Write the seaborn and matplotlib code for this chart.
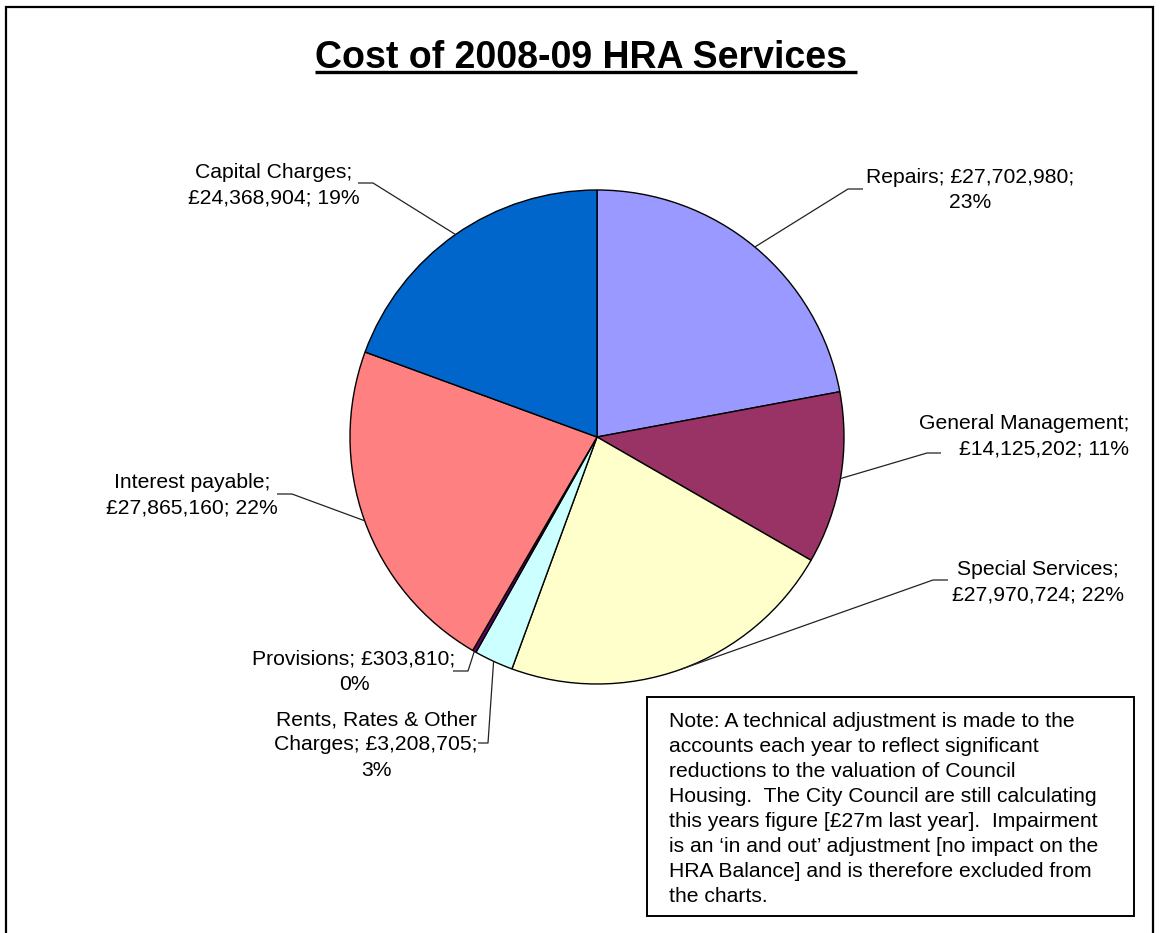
import matplotlib
matplotlib.use("Agg")
import matplotlib.pyplot as plt
from matplotlib.patches import Rectangle
import numpy as np
import seaborn as sns

# --- data -------------------------------------------------------------
categories = ["Repairs", "General Management", "Special Services",
              "Rents, Rates & Other Charges", "Provisions",
              "Interest payable", "Capital Charges"]
costs = [27702980, 14125202, 27970724, 3208705, 303810, 27865160, 24368904]
percent_labels = ["23%", "11%", "22%", "3%", "0%", "22%", "19%"]
colors = ["#9999FF", "#993366", "#FFFFCC", "#CCFFFF", "#660066",
          "#FF8080", "#0066CC"]

title = "Cost of 2008-09 HRA Services"
note = ("Note: A technical adjustment is made to the\n"
        "accounts each year to reflect significant\n"
        "reductions to the valuation of Council\n"
        "Housing.  The City Council are still calculating\n"
        "this years figure [\u00a327m last year].  Impairment\n"
        "is an \u2018in and out\u2019 adjustment [no impact on the\n"
        "HRA Balance] and is therefore excluded from\n"
        "the charts.")

# how each data label wraps onto lines
label_templates = [
    "{name}; {cost};\n{pct}",
    "{name};\n{cost}; {pct}",
    "{name};\n{cost}; {pct}",
    "Rents, Rates & Other\nCharges; {cost};\n{pct}",
    "{name}; {cost};\n{pct}",
    "{name};\n{cost}; {pct}",
    "{name};\n{cost}; {pct}",
]

# --- layout (pixel units, y measured from the top) ----------------------
W, H = 1160, 933
center_px = (597, 437)
radius_px = 247
# text anchor, horizontal alignment, elbow of leader, end of short tail
label_layout = [
    ((970, 190), "center", (848, 189), (863, 189)),
    ((1129, 436), "right", (927, 453), (941, 453)),
    ((1038, 582), "center", (933, 580), (948, 580)),
    ((376, 745), "center", (488, 743), (478, 743)),
    ((354, 672), "center", (468, 671), (453, 671)),
    ((192, 495), "center", (292, 494), (277, 494)),
    ((274, 185), "center", (373, 183), (358, 183)),
]


def P(x, y):
    """Convert a top-left pixel position to data coordinates."""
    return x, H - y


sns.set_theme(style="white")
plt.rcParams["font.family"] = ["Liberation Sans", "DejaVu Sans"]

fig = plt.figure(figsize=(W / 100, H / 100), dpi=100)
fig.patch.set_facecolor("white")
ax = fig.add_axes([0, 0, 1, 1])

wedges, _ = ax.pie(costs, colors=colors, startangle=90, counterclock=False,
                   center=P(*center_px), radius=radius_px,
                   wedgeprops=dict(edgecolor="black", linewidth=1.0))
ax.set_xlim(0, W)
ax.set_ylim(0, H)
ax.set_aspect("equal")
ax.axis("off")

label_fs = 15.2
cx, cy = P(*center_px)
for w, name, cost, pct, tmpl, (tpos, ha, elbow, tail) in zip(
        wedges, categories, costs, percent_labels, label_templates, label_layout):
    text = tmpl.format(name=name, cost=f"\u00a3{cost:,}", pct=pct)
    ax.text(*P(*tpos), text, ha=ha, va="center", multialignment=ha,
            fontsize=label_fs, color="black", linespacing=1.42)
    mid = np.deg2rad((w.theta1 + w.theta2) / 2)
    edge = (cx + radius_px * np.cos(mid), cy + radius_px * np.sin(mid))
    ex, ey = P(*elbow)
    tx, ty = P(*tail)
    ax.plot([edge[0], ex, tx], [edge[1], ey, ty], color="#222222",
            lw=0.9, solid_capstyle="butt")

# note box
box_l, box_t, box_r, box_b = 647, 697, 1134, 916
ax.add_patch(Rectangle(P(box_l, box_b), box_r - box_l, box_b - box_t,
                       facecolor="white", edgecolor="black", lw=1.4))
ax.text(*P(669, 712), note, ha="left", va="top", fontsize=label_fs,
        color="black", linespacing=1.40)

# outer frame (open at the bottom edge of the image)
ax.plot([6, 6, 1153, 1153], [-5, H - 7, H - 7, -5], color="black",
        lw=1.6, solid_joinstyle="miter", clip_on=False)

# title with underline
t = ax.text(*P(586, 68), title + " ", ha="center", va="baseline",
            fontsize=27, fontweight="bold", color="black")
fig.canvas.draw()
bb = t.get_window_extent(renderer=fig.canvas.get_renderer())
inv = ax.transData.inverted()
(x0, _), (x1, _) = inv.transform([(bb.x0, bb.y0), (bb.x1, bb.y0)])
uy = P(0, 72)[1]
ax.plot([x0, x1], [uy, uy], color="black", lw=2.4, solid_capstyle="butt")

fig.savefig("out.png", dpi=100, facecolor="white")
